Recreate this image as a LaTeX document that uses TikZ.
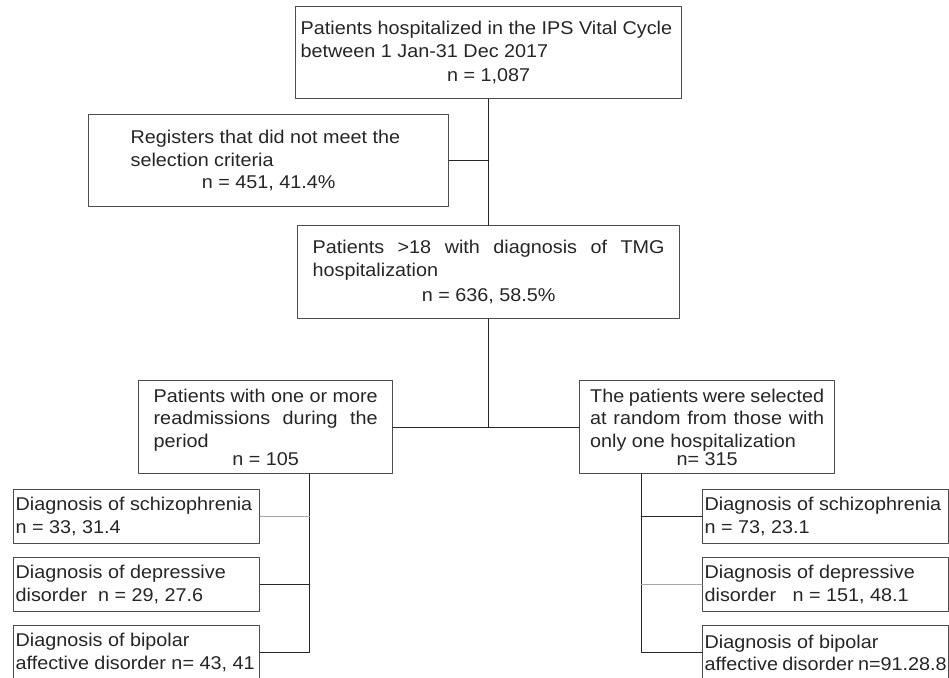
\documentclass[tikz,border=0pt]{standalone}
\usepackage{fontspec}
\setmainfont{Liberation Sans}[FakeStretch=1.07]
\newcommand{\midline}[1]{\hspace*{\fill}#1\hspace*{\fill}}
\newcommand{\spreadline}[1]{\makebox[\linewidth][s]{#1}}

\begin{document}
\begin{tikzpicture}[x=1pt, y=-1pt, line cap=round, line join=round,
	every node/.style={text=black!85, font=\fontsize{18.5}{22.5}\selectfont},
	box/.style={draw=black!70, line width=1.3pt, fill=white, anchor=north west, inner ysep=0pt, align=flush left},
	subbox/.style={box, minimum width=246pt, minimum height=54pt, text width=242pt, inner xsep=2pt},
	wire/.style={draw=black!85, line width=1.3pt},
	faint wire/.style={draw=black!35, line width=1.3pt}]
	\useasboundingbox (0, 0) rectangle (949, 677);
	\clip (0, 0) rectangle (949, 677);
	% First layer
	\node [box, minimum width=386pt, minimum height=92pt, text width=376pt, inner xsep=5pt] (hosp) at (295, 6) {Patients hospitalized in the IPS Vital Cycle\\ between 1 Jan-31 Dec 2017\\[2pt] \midline{n = 1,087}};
	\node [box, minimum width=360pt, minimum height=92pt, text width=276pt, inner xsep=0pt] (excl) at (88, 114) {Registers that did not meet the\\ selection criteria\\ \midline{n = 451, 41.4\%}};
	% Second layer
	\node [box, minimum width=382pt, minimum height=93pt, text width=352pt, inner xsep=0pt] (tmg) at (297, 225) {\spreadline{Patients >18 with diagnosis of TMG}\\ hospitalization\\[3pt] \midline{n = 636, 58.5\%}};
	% Third layer
	\node [box, minimum width=254pt, minimum height=93pt, text width=224pt, inner xsep=0pt] (readm) at (138, 380) {\spreadline{Patients with one or more}\\ \spreadline{readmissions during the}\\ period\\[-4pt] \midline{n = 105}};
	\node [box, minimum width=255pt, minimum height=93pt, text width=234pt, inner xsep=0pt] (rand) at (579, 380) {\spreadline{The patients were selected}\\ \spreadline{at random from those with}\\ only one hospitalization\\[-4pt] \midline{n= 315}};
	% Diagnosis boxes
	\foreach \ytop/\lbl [count=\i] in {489/{Diagnosis of schizophrenia\\ n = 33, 31.4}, 557/{Diagnosis of depressive\\ disorder~ n = 29, 27.6}, 625/{Diagnosis of bipolar\\ affective disorder n= 43, 41}}
		\node [subbox] (left-\i) at (13, \ytop) {\lbl};
	\foreach \ytop/\lbl [count=\i] in {489/{Diagnosis of schizophrenia\\ n = 73, 23.1}, 557/{Diagnosis of depressive\\ disorder~~ n = 151, 48.1}, 625/{Diagnosis of bipolar\\ affective~disorder~n=91.28.8}}
		\node [subbox] (right-\i) at (702, \ytop) {\lbl};
	% Main arrows
	\draw [wire] (hosp.south) -- (tmg.north);
	\draw [wire] (excl.east) -- (excl.east -| hosp.south);
	\draw [wire] (tmg.south) -- (tmg.south |- readm.east);
	\draw [wire] (readm.east) -- (rand.west);
	% Left branch
	\coordinate (left-bus) at ([xshift=44pt]readm.south);
	\draw [wire] (left-bus) |- (left-3.east);
	\draw [faint wire] (left-1.east) -- (left-1.east -| left-bus);
	\draw [wire] (left-2.east) -- (left-2.east -| left-bus);
	% Right branch
	\coordinate (right-bus) at ([xshift=-66pt]rand.south);
	\draw [wire] (right-bus) |- (right-3.west);
	\draw [wire] (right-1.west) -- (right-1.west -| right-bus);
	\draw [faint wire] (right-2.west) -- (right-2.west -| right-bus);
\end{tikzpicture}
\end{document}
